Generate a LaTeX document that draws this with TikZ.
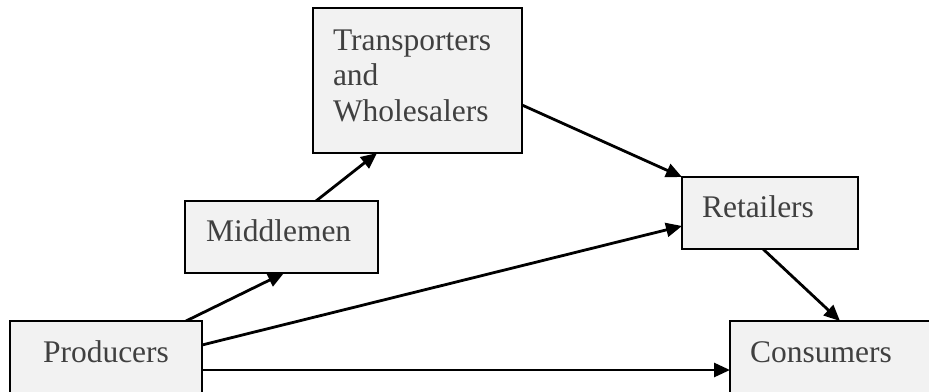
\documentclass[tikz,border=0pt]{standalone}
\usepackage{fontspec}
\setmainfont{Liberation Serif}
\usetikzlibrary{arrows.meta, backgrounds}

\begin{document}
\begin{tikzpicture}[x=1pt, y=-1pt,
    stage/.style={draw, line width=2.8pt, fill=black!5, text=black!75,
      anchor=north west, outer sep=0pt, inner ysep=0pt, inner xsep=20pt,
      align=left, font=\fontsize{31.5}{35.5}\selectfont},
    flow/.style={line width=2.8pt, -{Triangle[length=16pt, width=14pt]}}]
    \useasboundingbox (0,0) rectangle (929,391);
    \clip (0,0) rectangle (929,391);

    \node[stage, inner xsep=33pt, text width=126pt, text height=41pt, text depth=60pt] (prod) at (10,321) {Producers};
    \node[stage, inner xsep=21pt, text width=151pt, text height=40pt, text depth=32pt] (mid) at (185,201) {Middlemen};
    \node[stage, text width=169pt, text height=42pt, text depth=103pt] (trans) at (313,8) {Transporters\\and\\Wholesalers};
    \node[stage, text width=136pt, text height=40pt, text depth=32pt] (ret) at (682,177) {Retailers};
    \node[stage, text width=230pt, text height=41pt, text depth=60pt] (cons) at (730,321) {Consumers};

    \begin{scope}[on background layer]
      \draw[flow] ([xshift=176pt]prod.north west) -- ([xshift=99pt]mid.south west);
      \draw[flow] ([xshift=131pt]mid.north west) -- ([xshift=64pt]trans.south west);
      \draw[flow] ([yshift=-97pt]trans.north east) -- (ret.north west);
      \draw[flow] ([yshift=-24pt]prod.north east) -- ([yshift=-49pt]ret.north west);
      \draw[flow] ([xshift=81pt]ret.south west) -- ([xshift=110pt]cons.north west);
      \draw[flow] ([yshift=-49pt]prod.north east) -- ([yshift=-49pt]cons.north west);
    \end{scope}
\end{tikzpicture}
\end{document}
